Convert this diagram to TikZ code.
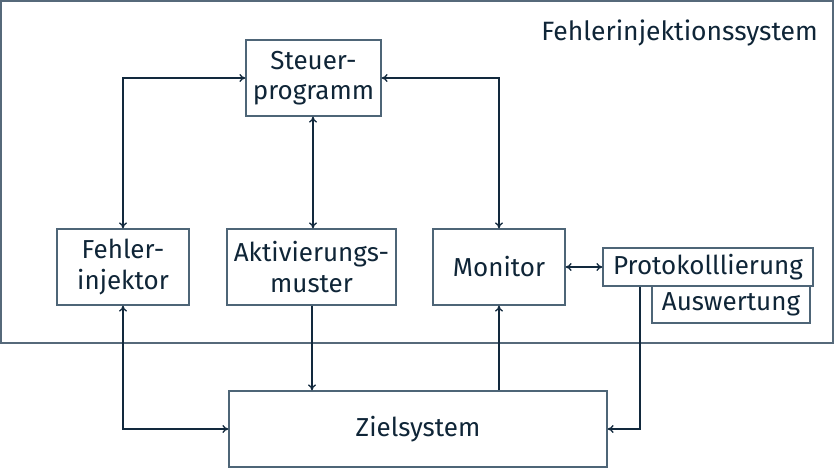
\documentclass[tikz,border=0pt]{standalone}
\usepackage{fontspec}
\setmainfont{Fira Sans}
\usetikzlibrary{arrows.meta}
\definecolor{framec}{HTML}{56697A}
\definecolor{boxc}{HTML}{4E6577}
\definecolor{connc}{HTML}{12293D}
\definecolor{textc}{HTML}{0F2537}
\tikzset{
  txt/.style={text=textc, font=\fontsize{26}{30.5}\selectfont},
  blk/.style={txt, draw=boxc, line width=1.3pt, fill=white, inner sep=0pt,
    align=center},
  link/.style={draw=connc, line width=1.3pt, arrows={-}},
  >={To[length=6pt,width=8pt]}
}
\begin{document}
\begin{tikzpicture}[x=1pt, y=-1pt]
  \useasboundingbox (0,0) rectangle (835,470);
  % system boundary
  \draw[framec, line width=1.5pt] (1,1) rectangle (833,343);
  \node[txt, anchor=base east, inner sep=0pt, font=\fontsize{26.5}{30.5}\selectfont]
    (title) at (818,41) {Fehlerinjektionssystem};

  % components
  \node[blk, minimum width=135pt, minimum height=76pt] (steuer) at (313.5,78) {Steuer-\\programm};
  \node[blk, minimum width=132pt, minimum height=76pt] (fehler) at (123,267) {Fehler-\\injektor};
  \node[blk, minimum width=169pt, minimum height=76pt] (aktiv) at (311.5,267) {Aktivierungs-\\muster};
  \node[blk, minimum width=132pt, minimum height=76pt] (monitor) at (499,267) {Monitor};
  \node[blk, minimum width=158pt, minimum height=37pt] (ausw) at (731,304.5) {Auswertung};
  \node[blk, minimum width=210pt, minimum height=38pt] (proto) at (708,267) {Protokolllierung};
  \node[blk, minimum width=378pt, minimum height=76pt] (ziel) at (418,429) {Zielsystem};

  % connections
  \draw[link, <->] (steuer.west) -| (fehler.north);
  \draw[link, <->] (steuer.east) -| (monitor.north);
  \draw[link, <->] ([xshift=-0.5pt]steuer.south) -- ([xshift=-0.5pt]steuer.south |- aktiv.north);
  \draw[link, <->] (fehler.south) |- (ziel.west);
  \draw[link, ->] ([xshift=0.5pt]aktiv.south) -- ([xshift=0.5pt]aktiv.south |- ziel.north);
  \draw[link, ->] (monitor.south |- ziel.north) -- (monitor.south);
  \draw[link, <->] (monitor.east) -- (proto.west);
  \coordinate (pout) at ([xshift=-68pt]proto.south);
  \draw[link, ->] (pout) |- (ziel.east);
\end{tikzpicture}
\end{document}
